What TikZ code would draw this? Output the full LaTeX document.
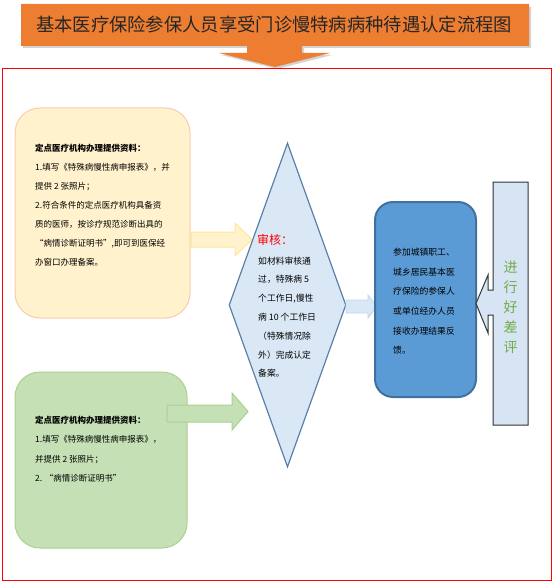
\documentclass[tikz,border=0pt]{standalone}
\usepackage{fontspec}
\setmainfont{Noto Sans CJK SC}
\usetikzlibrary{shapes.geometric}
\definecolor{bannerorange}{HTML}{ED7D31}
\definecolor{ylfill}{HTML}{FFF2CC}
\definecolor{ylline}{HTML}{F8CBAD}
\definecolor{ylarrow}{HTML}{FFE699}
\definecolor{grfill}{HTML}{C5E0B4}
\definecolor{grline}{HTML}{A9D18E}
\definecolor{dmfill}{HTML}{DAE8F5}
\definecolor{dmline}{HTML}{5A7FAA}
\definecolor{bbfill}{HTML}{5B9BD5}
\definecolor{bbline}{HTML}{41719C}
\definecolor{vbfill}{HTML}{D6E4F3}
\definecolor{evalgreen}{HTML}{70AD47}
\definecolor{barrowline}{HTML}{BDD7EE}
\begin{document}
\begin{tikzpicture}[x=1pt,y=-1pt,
  bodytxt/.style={inner sep=0pt, align=left, anchor=north west, font=\fontsize{8.5}{19}\selectfont},
]
\useasboundingbox (0,0) rectangle (554,583);
% banner shadow
\fill[black!35, opacity=0.5] (23,7) -- (531,7) -- (531,48) -- (304,48) -- (304,55) -- (332,55) -- (277,69) -- (221,55) -- (249,55) -- (249,48) -- (23,48) -- cycle;
% banner
\fill[bannerorange] (21,4) -- (529,4) -- (529,46) -- (302,46) -- (302,53) -- (330,53) -- (275,67) -- (219,53) -- (247,53) -- (247,46) -- (21,46) -- cycle;
\node[inner sep=0pt, font=\fontsize{18.3}{18.3}\selectfont, text=black!85] (title) at (274,25) {基本医疗保险参保人员享受门诊慢特病病种待遇认定流程图};
% red frame
\draw[red, line width=1pt] (2.5,69) rectangle (551.5,580.5);
% yellow box
\draw[fill=ylfill, draw=ylline, line width=1pt, rounded corners=25pt] (15,108) rectangle (190,318);
\node[bodytxt] (ytext) at (35,144) {\textbf{定点医疗机构办理提供资料：}\\1.填写《特殊病慢性病申报表》，并\\提供 2 张照片；\\2.符合条件的定点医疗机构具备资\\质的医师，按诊疗规范诊断出具的\\“病情诊断证明书”,即可到医保经\\办窗口办理备案。};
% green box
\draw[fill=grfill, draw=grline, line width=1pt, rounded corners=25pt] (15,372) rectangle (187,548);
\node[bodytxt, font=\fontsize{8.5}{19.3}\selectfont] (gtext) at (35,416) {\textbf{定点医疗机构办理提供资料：}\\1.填写《特殊病慢性病申报表》，\\并提供 2 张照片；\\2. “病情诊断证明书”};
% yellow arrow
\draw[fill=ylfill, draw=ylarrow, line width=1pt] (191,232) -- (235,232) -- (235,223) -- (252,239.5) -- (235,256) -- (235,247) -- (191,247) -- cycle;
% green arrow
\draw[fill=grfill, draw=grline, line width=1pt] (167,405) -- (232,405) -- (232,393) -- (248,411.5) -- (232,430) -- (232,422) -- (167,422) -- cycle;
% diamond
\node[diamond, draw=dmline, fill=dmfill, line width=1.2pt, inner sep=0pt, aspect=0.36, minimum width=117pt, minimum height=324pt] (dia) at (287.5,305) {};
\node[inner sep=0pt, anchor=west, text=red, font=\fontsize{12}{12}\selectfont] (shenhe) at (257,240) {审核：};
\node[bodytxt, font=\fontsize{8.8}{18.8}\selectfont] (dtext) at (258,256.5) {如材料审核通\\过，特殊病 5\\个工作日,慢性\\病 10 个工作日\\（特殊情况除\\外）完成认定\\备案。};
% blue arrow
\draw[fill=dmfill, draw=barrowline, line width=0.8pt] (346,300) -- (368,300) -- (368,295) -- (377,306.5) -- (368,318) -- (368,313) -- (346,313) -- cycle;
% blue box
\draw[fill=bbfill, draw=bbline, line width=2pt, rounded corners=18pt] (375,202) rectangle (476,397);
\node[bodytxt, font=\fontsize{8.8}{19.6}\selectfont] (btext) at (393,248) {参加城镇职工、\\城乡居民基本医\\疗保险的参保人\\或单位经办人员\\接收办理结果反\\馈。};
% vertical callout
\draw[fill=vbfill, draw=black!80, line width=1pt] (493,182) -- (528,182) -- (528,425) -- (493,425) -- (493,315) -- (488,315) -- (488,333) -- (476,303.5) -- (488,275) -- (488,290) -- (493,290) -- cycle;
\node[inner sep=0pt, align=center, text=evalgreen, font=\fontsize{14}{20}\selectfont] (eval) at (510.5,307) {进\\行\\好\\差\\评};
\end{tikzpicture}
\end{document}
